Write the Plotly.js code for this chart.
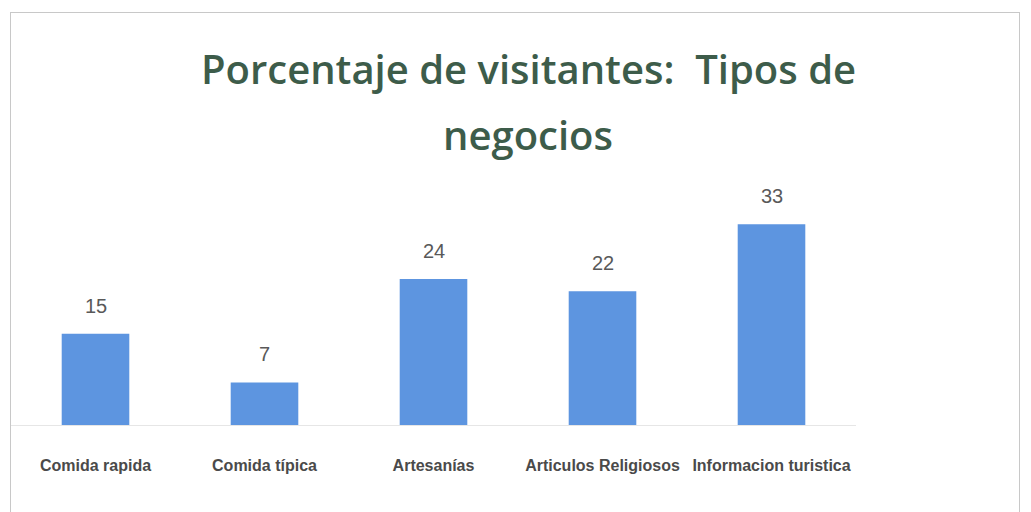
<!DOCTYPE html>
<html>
<head>
<meta charset="utf-8">
<script src="https://cdn.plot.ly/plotly-3.0.1.min.js"></script>
<style>
html,body{margin:0;padding:0;background:#fff;}
#frame{position:absolute;left:10px;top:12px;width:1010px;height:520px;border:1px solid #c8c8c8;box-sizing:border-box;}
#chart{position:absolute;left:0;top:0;width:1031px;height:512px;}
</style>
</head>
<body>
<div id="frame"></div>
<div id="chart"></div>
<script>
const categories = ["Comida rapida", "Comida típica", "Artesanías", "Articulos Religiosos", "Informacion turistica"];
const values = [15, 7, 24, 22, 33];
const titleLines = ["Porcentaje de visitantes:  Tipos de", "negocios"];

const trace = {
  type: "bar",
  x: categories,
  y: values,
  width: 0.4,
  marker: {color: "#5d95e0"},
  hoverinfo: "x+y"
};

const valueLabels = categories.map((c, i) => ({
  x: c, y: values[i], xref: "x", yref: "y",
  text: String(values[i]), showarrow: false,
  yanchor: "bottom", yshift: 15,
  font: {family: "Liberation Sans, Arial, sans-serif", size: 20, color: "#595959"}
}));

// title drawn as two annotation lines (paper coords relative to plot area)
const titleAnns = titleLines.map((t, i) => ({
  xref: "paper", yref: "paper",
  x: 0.612, y: [1.585, 1.29][i],
  xanchor: "center", yanchor: "middle",
  text: t, showarrow: false,
  font: {family: "Open Sans, sans-serif", size: 40, color: "#3d5c4a", weight: 600}
}));

const layout = {
  width: 1031, height: 512,
  paper_bgcolor: "rgba(0,0,0,0)",
  plot_bgcolor: "rgba(0,0,0,0)",
  margin: {l: 11, r: 175, t: 200, b: 87},
  showlegend: false,
  bargap: 0.6,
  xaxis: {
    type: "category",
    showline: true, linecolor: "#e6e6e6", linewidth: 1,
    showgrid: false, ticks: "", zeroline: false,
    tickfont: {family: "Liberation Sans, Arial, sans-serif", size: 16, color: "#4a4a4a", weight: "bold"},
    ticklabelstandoff: 26
  },
  yaxis: {
    range: [0, 37], visible: false, showgrid: false, zeroline: false
  },
  annotations: titleAnns.concat(valueLabels)
};

Plotly.newPlot("chart", [trace], layout, {displayModeBar: false, staticPlot: true});
</script>
</body>
</html>
